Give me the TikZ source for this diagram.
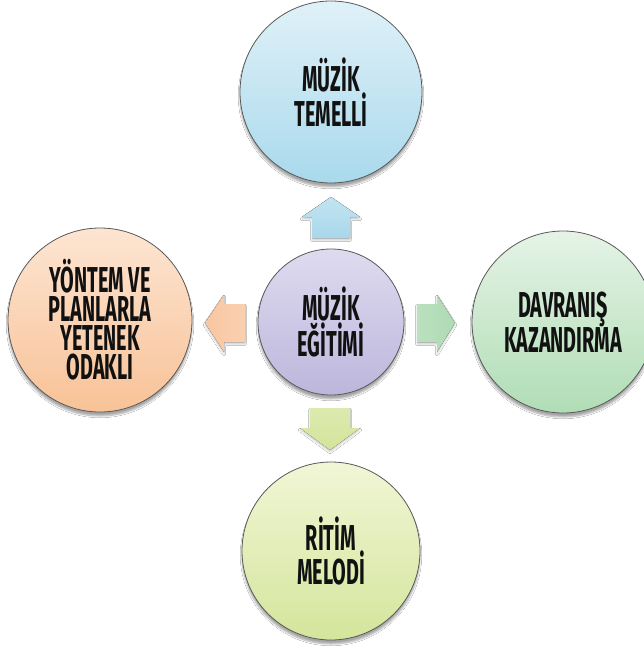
\documentclass[tikz,border=0pt]{standalone}
\usepackage{fontspec}
\newfontfamily\lblfont{Fira Sans}[FakeStretch=0.55]
\usetikzlibrary{shadows.blur}
\definecolor{topA}{HTML}{E0F1F8}
\definecolor{topB}{HTML}{A9D9EC}
\definecolor{midA}{HTML}{DEDBEF}
\definecolor{midB}{HTML}{BDB6DC}
\definecolor{leftA}{HTML}{FDE5D2}
\definecolor{leftB}{HTML}{F8C297}
\definecolor{rightA}{HTML}{E5F3E6}
\definecolor{rightB}{HTML}{B0DDB5}
\definecolor{botA}{HTML}{F1F6D6}
\definecolor{botB}{HTML}{D4E59B}
\definecolor{arBlue}{HTML}{A8D8EB}
\definecolor{arPeach}{HTML}{F9C7A1}
\definecolor{arGreen}{HTML}{AEDBB3}
\definecolor{arYel}{HTML}{D4E49B}
\definecolor{txt}{HTML}{111111}
\tikzset{
  circ/.style={circle, draw=black!65, line width=0.8pt, inner sep=0pt, align=center,
    text=txt, font=\lblfont\bfseries\fontsize{36}{29}\selectfont,
    blur shadow={shadow xshift=0pt, shadow yshift=-4pt, shadow blur steps=6, shadow opacity=35}},
  blockarrow/.style={draw=none, blur shadow={shadow xshift=0pt, shadow yshift=-2pt, shadow blur steps=4, shadow opacity=20}}
}
\begin{document}
\begin{tikzpicture}[x=1pt,y=-1pt]
\useasboundingbox (0,0) rectangle (644,650);
\clip (0,0) rectangle (644,650);
\fill[white] (0,0) rectangle (644,650);
% circles
\node[circ, minimum size=182pt, top color=topA, bottom color=topB] (top) at (331,92) {MÜZİK\\TEMELLİ};
\node[circ, minimum size=146pt, top color=midA, bottom color=midB] (center) at (331,322) {MÜZİK\\EĞİTİMİ};
\node[circ, minimum size=184pt, top color=leftA, bottom color=leftB] (left) at (100,320) {YÖNTEM VE\\PLANLARLA\\YETENEK\\ODAKLI};
\node[circ, minimum size=182pt, top color=rightA, bottom color=rightB] (right) at (563,322) {DAVRANIŞ\\KAZANDIRMA};
\node[circ, minimum size=178pt, top color=botA, bottom color=botB] (bottom) at (331,551) {RİTİM\\MELODİ};
% block arrows
\fill[blockarrow, top color=arBlue!70!white, bottom color=arBlue]
  (312,238) -- (312,217) -- (302,217) -- (331,197) -- (360,217) -- (350,217) -- (350,238) -- cycle;
\fill[blockarrow, left color=arPeach, right color=arPeach!85!white]
  (245,304) -- (224,304) -- (224,295) -- (205,323) -- (224,352) -- (224,342) -- (245,342) -- cycle;
\fill[blockarrow, left color=arGreen!85!white, right color=arGreen]
  (417,304) -- (437,304) -- (437,295) -- (455,323) -- (437,352) -- (437,342) -- (417,342) -- cycle;
\fill[blockarrow, top color=arYel!80!white, bottom color=arYel]
  (310,408) -- (350,408) -- (350,428) -- (360,428) -- (330,450) -- (300,428) -- (310,428) -- cycle;
\end{tikzpicture}
\end{document}
